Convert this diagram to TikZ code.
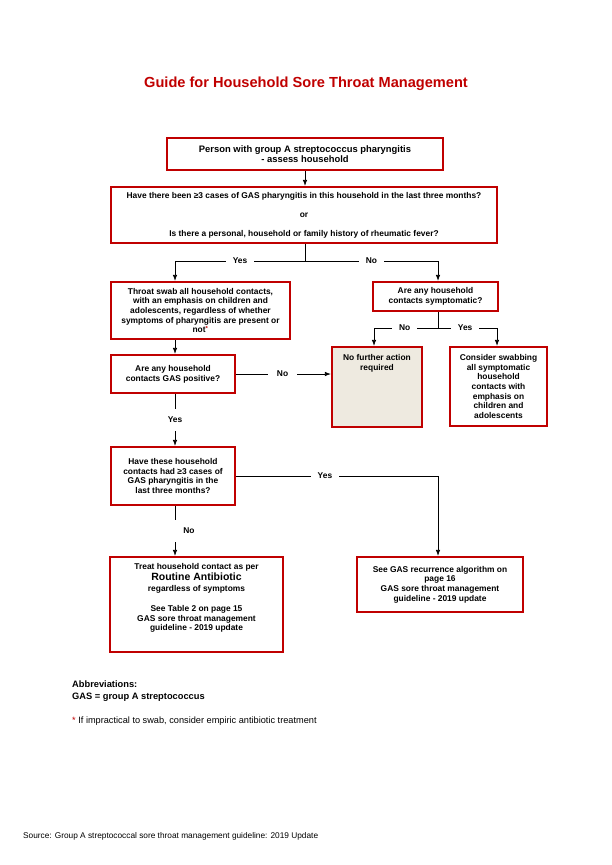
\documentclass[tikz,border=0pt]{standalone}
\usepackage{fontspec}
\setmainfont{Liberation Sans}
\usetikzlibrary{arrows.meta, positioning}
\definecolor{guidered}{HTML}{C00000}
\definecolor{paleBeige}{HTML}{EEEAE0}

\begin{document}
\begin{tikzpicture}[
            x=1pt, y=-1pt,
            box/.style={draw=guidered, line width=2.2pt, fill=white, align=center, inner sep=1pt, font=\bfseries\fontsize{8.4}{9.7}\selectfont}, % Red framed boxes
            boxtext/.style={align=center, inner sep=1pt, font=\bfseries\fontsize{8.4}{9.7}\selectfont}, % Text at the top of a box
            answer/.style={fill=white, inner xsep=7pt, inner ysep=8pt, font=\bfseries\fontsize{8.4}{9}\selectfont}, % Yes / No on the lines
            link/.style={-{Latex[length=6pt, width=4.5pt]}, line width=0.8pt},
            plain/.style={line width=0.8pt},
            note/.style={anchor=west, inner sep=0pt, align=left}
            ]

    \useasboundingbox (0,0) rectangle (612,865);

    % Title
    \node[font=\bfseries\fontsize{14.6}{17}\selectfont, text=guidered] (title) at (306,84) {Guide for Household Sore Throat Management};

    % Boxes
    \node[box, minimum width=276pt, minimum height=32pt, font=\bfseries\fontsize{9.4}{10}\selectfont] (start) at (305,154) {Person with group A streptococcus pharyngitis\\- assess household};
    \node[box, minimum width=386pt, minimum height=56pt] (question) at (304,215) {Have there been ≥3 cases of GAS pharyngitis in this household in the last three months?\\[9.3pt]or\\[9.3pt]Is there a personal, household or family history of rheumatic fever?};
    \node[box, minimum width=179pt, minimum height=57pt] (swab) at (200.5,310.5) {Throat swab all household contacts,\\with an emphasis on children and\\adolescents, regardless of whether\\symptoms of pharyngitis are present or\\not\textsuperscript{\color{guidered}*}};
    \node[box, minimum width=125pt, minimum height=29pt, font=\bfseries\fontsize{8.4}{10}\selectfont] (symptom) at (435.5,296.5) {Are any household\\contacts symptomatic?};
    \node[box, minimum width=124pt, minimum height=38pt, font=\bfseries\fontsize{8.4}{10}\selectfont] (positive) at (173,374) {Are any household\\contacts GAS positive?};
    \node[box, fill=paleBeige, minimum width=90pt, minimum height=80pt] (noaction) at (377,387) {};
    \node[boxtext, below=7pt of noaction.north, font=\bfseries\fontsize{8.4}{10.3}\selectfont] (noactiontext) {No further action\\required};
    \node[box, minimum width=97pt, minimum height=79pt] (consider) at (498.5,386.5) {Consider swabbing\\all symptomatic\\household\\contacts with\\emphasis on\\children and\\adolescents};
    \node[box, minimum width=124pt, minimum height=58pt] (recur) at (173,476) {Have these household\\contacts had ≥3 cases of\\GAS pharyngitis in the\\last three months?};
    \node[box, minimum width=173pt, minimum height=95pt] (treat) at (196.5,604.5) {};
    \node[boxtext, below=6.5pt of treat.north] (treattext) {Treat household contact as per\\[1.3pt]{\fontsize{10.5}{12}\selectfont Routine Antibiotic}\\[1.3pt]regardless of symptoms\\[10pt]See Table 2 on page 15\\GAS sore throat management\\guideline - 2019 update};
    \node[box, minimum width=166pt, minimum height=55pt] (algo) at (440,584.5) {See GAS recurrence algorithm on\\page 16\\GAS sore throat management\\guideline - 2019 update};

    % Branch points
    \coordinate (split) at (305,261);
    \coordinate (lcol) at (175,261);
    \coordinate (rcol) at (438,261);
    \coordinate (ssplit) at (438,328);
    \coordinate (nacol) at (374,328);
    \coordinate (cscol) at (497,328);

    % Connectors
    \draw[link] (start.south) -- (start.south |- question.north);
    \draw[plain] (split |- question.south) -- (split);
    \draw[link] (split) -| node[answer, pos=0.25] {Yes} (lcol |- swab.north);
    \draw[link] (split) -| node[answer, pos=0.25] {No} (rcol |- symptom.north);
    \draw[plain] (ssplit |- symptom.south) -- (ssplit);
    \draw[link] (ssplit) -| node[answer, pos=0.26] {No} (nacol |- noaction.north);
    \draw[link] (ssplit) -| node[answer, pos=0.23] {Yes} (cscol |- consider.north);
    \draw[link] (lcol |- swab.south) -- (lcol |- positive.north);
    \draw[link] (positive.east) -- node[answer, inner xsep=9pt, pos=0.49] {No} (positive.east -| noaction.west);
    \draw[link] (lcol |- positive.south) -- node[answer] {Yes} (lcol |- recur.north);
    \draw[link] (recur.east) -| node[answer, pos=0.22] {Yes} (rcol |- algo.north);
    \draw[link] (lcol |- recur.south) -- node[answer, anchor=west, xshift=-2pt, inner xsep=10pt] {No} (lcol |- treat.north);

    % Notes
    \node[note, font=\bfseries\fontsize{9.3}{12}\selectfont] (abbrev) at (72,691) {Abbreviations:\\GAS = group A streptococcus};
    \node[note, font=\fontsize{9.2}{10}\selectfont] (footnote) at (72,721) {{\color{guidered}*} If impractical to swab, consider empiric antibiotic treatment};
    \node[note, font=\fontsize{8.3}{10}\selectfont] (source) at (23,836) {Source: Group A streptococcal sore throat management guideline: 2019 Update};

\end{tikzpicture}
\end{document}
